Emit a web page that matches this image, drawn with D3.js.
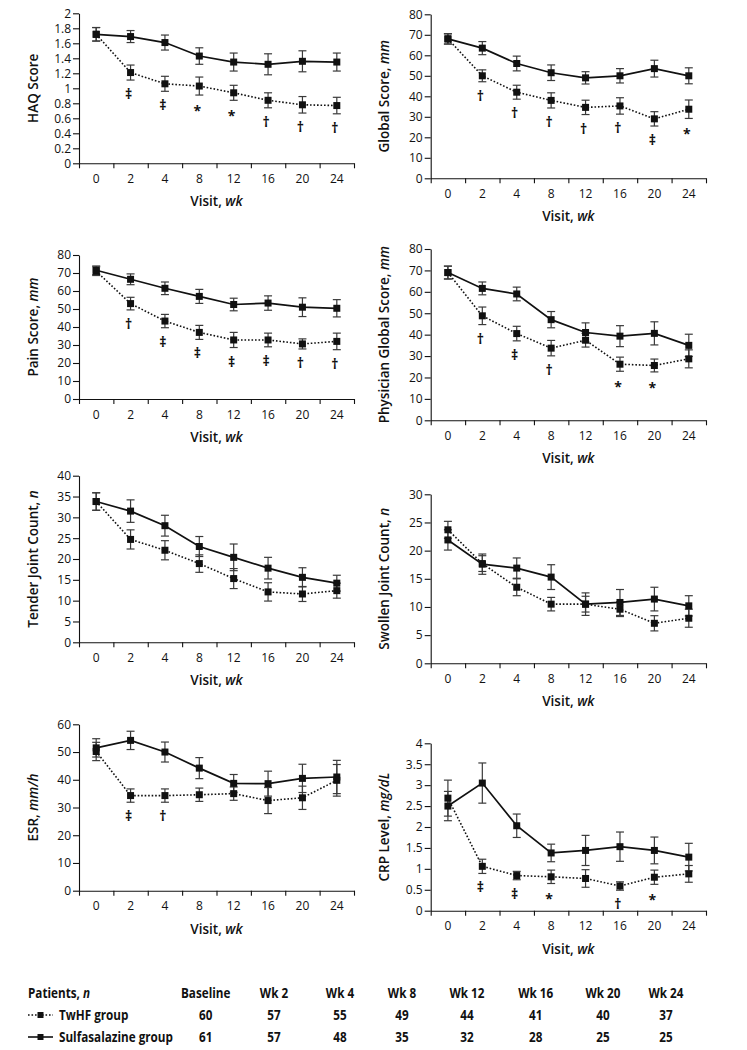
<!DOCTYPE html>
<html>
<head>
<meta charset="utf-8">
<script src="https://cdn.jsdelivr.net/npm/d3@7"></script>
<style>
  html, body { margin: 0; padding: 0; background: #fff; }
  svg { display: block; }
  .tick text { font-family: "Open Sans", "Noto Sans", sans-serif; font-size: 12px; fill: #111; }
  .tick line, .domain { stroke: #111; stroke-width: 1.1; }
  .ttl { font-family: "Open Sans", "Noto Sans", sans-serif; font-size: 13.5px; font-weight: 600; fill: #111; }
  .sym { font-family: "Open Sans", "DejaVu Sans", sans-serif; font-size: 14px; font-weight: bold; fill: #111; }
  .tbl { font-family: "Open Sans", "Noto Sans", sans-serif; font-size: 15px; font-weight: 700; fill: #111; }
</style>
</head>
<body>
<svg id="chart" width="747" height="1050"></svg>
<script>
// ---------- data ----------
const weeks = ["0", "2", "4", "8", "12", "16", "20", "24"];
const tableHeads = ["Baseline", "Wk 2", "Wk 4", "Wk 8", "Wk 12", "Wk 16", "Wk 20", "Wk 24"];
const nTwHF = [60, 57, 55, 49, 44, 41, 40, 37];
const nSulfa = [61, 57, 48, 35, 32, 28, 25, 25];

const haqSulfa   = [1.72, 1.69, 1.61, 1.43, 1.35, 1.32, 1.36, 1.35];
const haqSulfaSE = [0.09, 0.08, 0.10, 0.11, 0.12, 0.14, 0.14, 0.12];
const haqTw      = [1.72, 1.21, 1.06, 1.03, 0.94, 0.84, 0.78, 0.77];
const haqTwSE    = [0.09, 0.10, 0.10, 0.12, 0.10, 0.10, 0.11, 0.11];
const haqSym     = ["", "‡", "‡", "*", "*", "†", "†", "†"];

const globSulfa   = [68, 63.5, 56, 51.5, 49, 50, 53.5, 50];
const globSulfaSE = [2.5, 3.2, 3.6, 3.8, 3.0, 3.5, 4.1, 3.9];
const globTw      = [68, 50, 42, 38, 34.6, 35.3, 29, 33.7];
const globTwSE    = [2.5, 2.9, 3.4, 3.7, 3.5, 4.0, 3.5, 4.5];
const globSym     = ["", "†", "†", "†", "†", "†", "‡", "*"];

const painSulfa   = [71.5, 66.5, 61.5, 57, 52.5, 53.3, 51, 50.4];
const painSulfaSE = [2.4, 3.0, 3.5, 3.9, 3.5, 4.0, 5.2, 4.8];
const painTw      = [71, 53, 43.3, 37, 32.8, 32.8, 30.6, 32];
const painTwSE    = [2.4, 3.5, 3.7, 3.9, 4.2, 3.8, 2.8, 4.6];
const painSym     = ["", "†", "‡", "‡", "‡", "‡", "†", "†"];

const physSulfa   = [69, 61.6, 59, 47, 41, 39.3, 40.6, 35];
const physSulfaSE = [3.0, 3.0, 3.2, 3.8, 4.5, 4.9, 5.4, 5.2];
const physTw      = [69, 48.8, 40.5, 33.7, 37.4, 26.2, 25.6, 28.7];
const physTwSE    = [3.0, 4.1, 3.4, 3.6, 3.2, 3.3, 3.0, 4.2];
const physSym     = ["", "†", "‡", "†", "", "*", "*", ""];

const tendSulfa   = [33.8, 31.5, 28, 23, 20.4, 17.8, 15.6, 14.2];
const tendSulfaSE = [2.1, 2.7, 2.5, 2.4, 3.2, 2.6, 2.3, 1.9];
const tendTw      = [33.8, 24.7, 22.1, 18.9, 15.3, 12.1, 11.6, 12.4];
const tendTwSE    = [2.1, 2.3, 2.3, 2.1, 2.4, 2.2, 1.8, 1.8];
const tendSym     = ["", "", "", "", "", "", "", ""];

const swolSulfa   = [21.9, 17.6, 16.9, 15.3, 10.5, 10.8, 11.4, 10.2];
const swolSulfaSE = [1.8, 1.8, 1.8, 2.2, 2.0, 2.3, 2.1, 1.8];
const swolTw      = [23.7, 17.7, 13.5, 10.5, 10.5, 9.6, 7.1, 8.0];
const swolTwSE    = [1.5, 1.4, 1.5, 1.2, 1.4, 1.3, 1.35, 1.6];
const swolSym     = ["", "", "", "", "", "", "", ""];

const esrSulfa   = [51.5, 54.2, 50, 44.2, 38.7, 38.6, 40.5, 41];
const esrSulfaSE = [3.3, 3.3, 3.6, 3.8, 3.2, 4.5, 5.1, 6.0];
const esrTw      = [50.2, 34.3, 34.3, 34.6, 35, 32.5, 33.5, 39.8];
const esrTwSE    = [3.3, 2.4, 2.4, 2.4, 2.4, 4.7, 4.2, 5.7];
const esrSym     = ["", "‡", "†", "", "", "", "", ""];

const crpSulfa   = [2.5, 3.05, 2.03, 1.38, 1.44, 1.53, 1.44, 1.28];
const crpSulfaSE = [0.35, 0.48, 0.28, 0.21, 0.36, 0.35, 0.32, 0.33];
const crpTw      = [2.69, 1.06, 0.84, 0.81, 0.77, 0.59, 0.80, 0.88];
const crpTwSE    = [0.43, 0.17, 0.10, 0.16, 0.21, 0.10, 0.17, 0.20];
const crpSym     = ["", "‡", "‡", "*", "", "†", "*", ""];

// ---------- panels ----------
const panels = [
  {title: "HAQ Score", unit: "", max: 2, step: 0.2, s: haqSulfa, sse: haqSulfaSE, t: haqTw, tse: haqTwSE, sym: haqSym, x0: 79, x1: 354, y0: 13.3, y1: 163.3},
  {title: "Global Score, ", unit: "mm", max: 80, step: 10, s: globSulfa, sse: globSulfaSE, t: globTw, tse: globTwSE, sym: globSym, x0: 430.7, x1: 706, y0: 14.3, y1: 178.3},
  {title: "Pain Score, ", unit: "mm", max: 80, step: 10, s: painSulfa, sse: painSulfaSE, t: painTw, tse: painTwSE, sym: painSym, x0: 79, x1: 354, y0: 255, y1: 399},
  {title: "Physician Global Score, ", unit: "mm", max: 80, step: 10, s: physSulfa, sse: physSulfaSE, t: physTw, tse: physTwSE, sym: physSym, x0: 430.7, x1: 706, y0: 249, y1: 420.3},
  {title: "Tender Joint Count, ", unit: "n", max: 40, step: 5, s: tendSulfa, sse: tendSulfaSE, t: tendTw, tse: tendTwSE, sym: tendSym, x0: 79, x1: 354, y0: 475.7, y1: 642.3},
  {title: "Swollen Joint Count, ", unit: "n", max: 30, step: 5, s: swolSulfa, sse: swolSulfaSE, t: swolTw, tse: swolTwSE, sym: swolSym, x0: 430.7, x1: 706, y0: 494.3, y1: 663.3},
  {title: "ESR, ", unit: "mm/h", max: 60, step: 10, s: esrSulfa, sse: esrSulfaSE, t: esrTw, tse: esrTwSE, sym: esrSym, x0: 79, x1: 354, y0: 724.3, y1: 890.7},
  {title: "CRP Level, ", unit: "mg/dL", max: 4, step: 0.5, s: crpSulfa, sse: crpSulfaSE, t: crpTw, tse: crpTwSE, sym: crpSym, x0: 430.7, x1: 706, y0: 743.3, y1: 910.7}
];

const svg = d3.select("#chart");
const MK = 7;      // marker size
const CAP = 4;     // half cap width
const DOT = "1.6,1.9";

function fmt(v) { return String(+v.toFixed(2)); }

panels.forEach(p => {
  const g = svg.append("g");
  const x = d3.scaleBand().domain(weeks).range([p.x0, p.x1]);
  const xb = d3.scaleLinear().domain([0, weeks.length]).range([p.x0, p.x1]);
  const y = d3.scaleLinear().domain([0, p.max]).range([p.y1, p.y0]);
  const cx = d => x(d) + x.bandwidth() / 2;

  // y axis
  const yt = d3.range(0, p.max + p.step / 2, p.step);
  g.append("g").attr("transform", `translate(${p.x0},0)`)
    .call(d3.axisLeft(y).tickValues(yt).tickFormat(fmt).tickSize(6).tickSizeOuter(0).tickPadding(2));
  // x axis: ticks at band boundaries
  g.append("g").attr("transform", `translate(0,${p.y1})`)
    .call(d3.axisBottom(xb).tickValues(d3.range(0, weeks.length + 1)).tickFormat("").tickSize(5).tickSizeOuter(0));
  // x labels centered in bands
  const xl = g.append("g").attr("transform", `translate(0,${p.y1 + 11})`)
    .call(d3.axisBottom(x).tickSize(0).tickPadding(0));
  xl.select(".domain").remove();

  // axis titles
  const vt = g.append("text").attr("class", "ttl").attr("text-anchor", "middle")
    .attr("x", (p.x0 + p.x1) / 2).attr("y", p.y1 + 43);
  vt.append("tspan").text("Visit, ");
  vt.append("tspan").attr("font-style", "italic").text("wk");

  const ytx = p.x0 - 41.5;
  const ytt = g.append("text").attr("class", "ttl").attr("text-anchor", "middle")
    .attr("transform", `translate(${ytx},${(p.y0 + p.y1) / 2}) rotate(-90)`);
  ytt.append("tspan").text(p.title);
  if (p.unit) ytt.append("tspan").attr("font-style", "italic").text(p.unit);

  const series = [
    {vals: p.t, se: p.tse, dash: DOT},
    {vals: p.s, se: p.sse, dash: null}
  ];

  // error bars
  series.forEach(s => {
    const eb = g.append("g").attr("stroke", "#3a3a3a").attr("stroke-width", 1.2).attr("fill", "none");
    weeks.forEach((w, i) => {
      const xx = cx(w), hi = y(s.vals[i] + s.se[i]), lo = y(s.vals[i] - s.se[i]);
      eb.append("line").attr("x1", xx).attr("x2", xx).attr("y1", hi).attr("y2", lo);
      eb.append("line").attr("x1", xx - CAP).attr("x2", xx + CAP).attr("y1", hi).attr("y2", hi);
      eb.append("line").attr("x1", xx - CAP).attr("x2", xx + CAP).attr("y1", lo).attr("y2", lo);
    });
  });

  // lines
  const line = d3.line().x((d, i) => cx(weeks[i])).y(d => y(d));
  series.forEach(s => {
    g.append("path").datum(s.vals).attr("d", line)
      .attr("fill", "none").attr("stroke", "#111")
      .attr("stroke-width", s.dash ? 1.6 : 1.7)
      .attr("stroke-dasharray", s.dash);
  });
  // markers
  series.forEach(s => {
    g.selectAll(null).data(s.vals).join("rect")
      .attr("x", (d, i) => cx(weeks[i]) - MK / 2)
      .attr("y", d => y(d) - MK / 2)
      .attr("width", MK).attr("height", MK).attr("fill", "#111");
  });

  // significance symbols under TwHF lower error bar
  weeks.forEach((w, i) => {
    const sym = p.sym[i];
    if (!sym) return;
    const lo = y(p.t[i] - p.tse[i]);
    g.append("text").attr("class", "sym").attr("text-anchor", "middle")
      .attr("x", cx(w) - 2).attr("y", lo + (sym === "*" ? 21 : 19)).text(sym);
  });
});

// ---------- patient table ----------
const colX = [205.7, 274, 340, 402, 467, 535.7, 603, 666];
const rowY = [998, 1020, 1042];
const SQ = 0.78; // horizontal condensation of table text
const tbl = svg.append("g");
function tText(x, y, anchor) {
  return tbl.append("text").attr("class", "tbl").attr("text-anchor", anchor || "start")
    .attr("transform", `translate(${x},${y}) scale(${SQ},1)`);
}
const head = tText(28, rowY[0]);
head.append("tspan").text("Patients, ");
head.append("tspan").attr("font-style", "italic").text("n");
tableHeads.forEach((h, i) => tText(colX[i], rowY[0], "middle").text(h));

const rows = [
  {label: "TwHF group", vals: nTwHF, dash: DOT},
  {label: "Sulfasalazine group", vals: nSulfa, dash: null}
];
rows.forEach((r, k) => {
  const yy = rowY[k + 1];
  tbl.append("line").attr("x1", 28).attr("x2", 53).attr("y1", yy - 5).attr("y2", yy - 5)
    .attr("stroke", "#111").attr("stroke-width", 1.6).attr("stroke-dasharray", r.dash);
  tbl.append("rect").attr("x", 40.5 - 3).attr("y", yy - 8).attr("width", 6).attr("height", 6).attr("fill", "#111");
  tText(59, yy).text(r.label);
  r.vals.forEach((v, i) => tText(colX[i], yy, "middle").text(v));
});
</script>
</body>
</html>
